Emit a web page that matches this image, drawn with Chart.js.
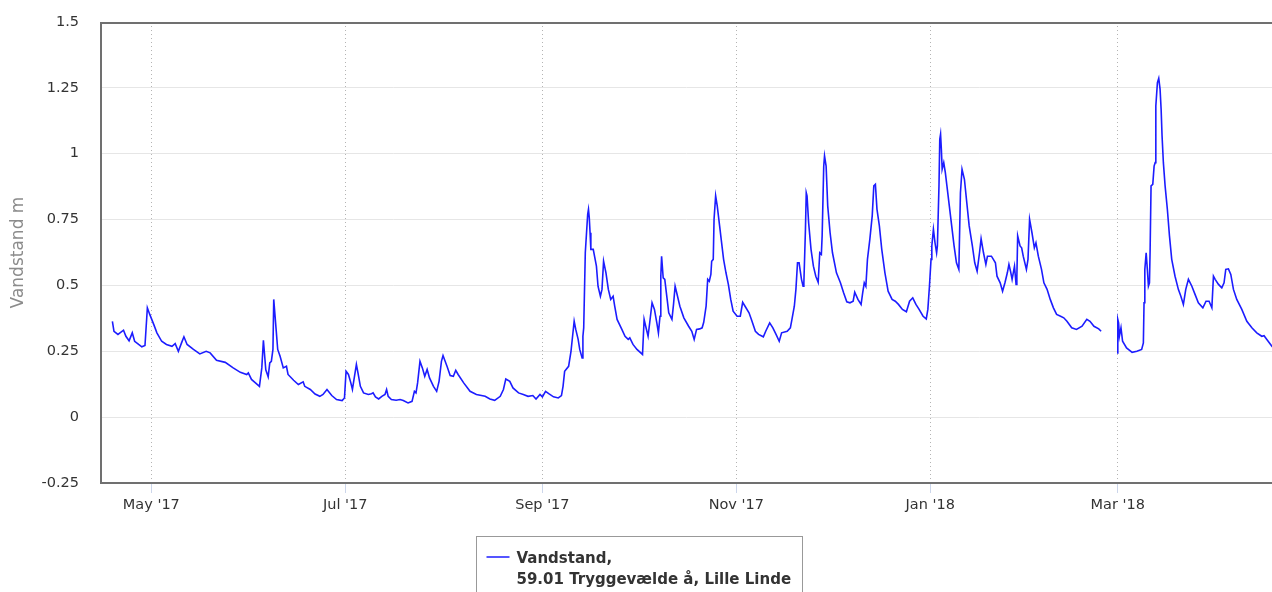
<!DOCTYPE html>
<html>
<head>
<meta charset="utf-8">
<title>Vandstand – 59.01 Tryggevælde å, Lille Linde</title>
<script src="https://cdn.jsdelivr.net/npm/chart.js@4.4.1/dist/chart.umd.min.js"></script>
<style>
  html, body { margin: 0; padding: 0; background: #ffffff; }
  canvas { display: block; }
</style>
</head>
<body>
<canvas id="chart" width="1272" height="592"></canvas>
<script>
// Reading times ("YYYY-MM-DD HH", UTC) and water level in metres.
const readingTimes = [
  "2017-04-18 18","2017-04-19 06","2017-04-20 12","2017-04-22 06","2017-04-23 00","2017-04-24 00","2017-04-25 00","2017-04-25 18",
  "2017-04-27 00","2017-04-28 00","2017-04-29 00","2017-04-29 18","2017-04-30 12","2017-05-01 18","2017-05-02 18","2017-05-04 06",
  "2017-05-05 18","2017-05-07 12","2017-05-08 12","2017-05-09 12","2017-05-10 12","2017-05-11 06","2017-05-12 06","2017-05-14 06",
  "2017-05-16 06","2017-05-18 06","2017-05-19 12","2017-05-21 12","2017-05-24 06","2017-05-26 18","2017-05-29 00","2017-05-31 00",
  "2017-05-31 12","2017-06-01 12","2017-06-02 18","2017-06-04 00","2017-06-04 18","2017-06-05 06","2017-06-06 00","2017-06-06 18",
  "2017-06-07 06","2017-06-07 18","2017-06-08 06","2017-06-08 12","2017-06-09 06","2017-06-09 18","2017-06-10 12","2017-06-11 12",
  "2017-06-12 12","2017-06-13 00","2017-06-14 18","2017-06-16 06","2017-06-17 18","2017-06-18 06","2017-06-20 00","2017-06-21 12",
  "2017-06-23 00","2017-06-24 00","2017-06-25 06","2017-06-26 18","2017-06-28 06","2017-06-30 00","2017-06-30 18","2017-07-01 06",
  "2017-07-02 00","2017-07-02 18","2017-07-03 06","2017-07-03 18","2017-07-04 12","2017-07-05 00","2017-07-05 18","2017-07-06 18",
  "2017-07-08 06","2017-07-09 06","2017-07-09 18","2017-07-10 12","2017-07-11 12","2017-07-12 12","2017-07-13 12","2017-07-14 00",
  "2017-07-14 12","2017-07-15 12","2017-07-17 00","2017-07-18 06","2017-07-19 06","2017-07-20 18","2017-07-22 00","2017-07-22 18",
  "2017-07-23 06","2017-07-23 18","2017-07-24 12","2017-07-25 06","2017-07-26 00","2017-07-26 18","2017-07-27 12","2017-07-28 18",
  "2017-07-29 18","2017-07-30 12","2017-07-31 06","2017-07-31 18","2017-08-02 00","2017-08-03 00","2017-08-04 00","2017-08-04 18",
  "2017-08-05 12","2017-08-07 06","2017-08-09 06","2017-08-11 06","2017-08-14 00","2017-08-15 12","2017-08-17 00","2017-08-18 18",
  "2017-08-19 18","2017-08-20 12","2017-08-21 18","2017-08-22 18","2017-08-24 12","2017-08-26 00","2017-08-27 12","2017-08-29 00",
  "2017-08-30 00","2017-08-31 06","2017-09-01 00","2017-09-02 00","2017-09-03 00","2017-09-04 12","2017-09-06 00","2017-09-07 00",
  "2017-09-07 12","2017-09-08 00","2017-09-09 06","2017-09-10 00","2017-09-10 12","2017-09-11 00","2017-09-11 12","2017-09-12 06",
  "2017-09-12 18","2017-09-13 12","2017-09-13 18","2017-09-14 00","2017-09-14 12","2017-09-15 06","2017-09-15 12","2017-09-15 18",
  "2017-09-16 00","2017-09-16 06","2017-09-17 00","2017-09-18 00","2017-09-18 12","2017-09-19 06","2017-09-19 18","2017-09-20 06",
  "2017-09-21 00","2017-09-21 18","2017-09-22 12","2017-09-23 06","2017-09-23 18","2017-09-24 12","2017-09-26 00","2017-09-27 00",
  "2017-09-28 00","2017-09-28 12","2017-09-29 12","2017-09-30 18","2017-10-02 12","2017-10-03 00","2017-10-03 12","2017-10-04 06",
  "2017-10-05 00","2017-10-05 12","2017-10-06 06","2017-10-07 00","2017-10-07 12","2017-10-08 00","2017-10-08 06","2017-10-08 12",
  "2017-10-09 00","2017-10-09 12","2017-10-10 06","2017-10-10 18","2017-10-11 18","2017-10-12 06","2017-10-12 18","2017-10-13 06",
  "2017-10-14 06","2017-10-15 12","2017-10-17 00","2017-10-18 00","2017-10-18 18","2017-10-19 12","2017-10-20 12","2017-10-21 06",
  "2017-10-21 18","2017-10-22 12","2017-10-23 00","2017-10-23 12","2017-10-24 00","2017-10-24 06","2017-10-24 18","2017-10-25 00",
  "2017-10-25 12","2017-10-26 00","2017-10-26 18","2017-10-27 06","2017-10-28 00","2017-10-28 18","2017-10-29 12","2017-10-30 06",
  "2017-10-31 00","2017-11-01 06","2017-11-02 06","2017-11-03 00","2017-11-03 18","2017-11-05 00","2017-11-05 18","2017-11-07 00",
  "2017-11-08 00","2017-11-09 12","2017-11-10 06","2017-11-11 12","2017-11-12 12","2017-11-13 12","2017-11-14 12","2017-11-15 06",
  "2017-11-17 00","2017-11-18 00","2017-11-18 12","2017-11-19 06","2017-11-19 18","2017-11-20 06","2017-11-20 18","2017-11-21 12",
  "2017-11-22 00","2017-11-22 06","2017-11-22 18","2017-11-23 00","2017-11-23 06","2017-11-23 18","2017-11-24 12","2017-11-25 06",
  "2017-11-26 00","2017-11-26 18","2017-11-27 06","2017-11-27 18","2017-11-28 00","2017-11-28 12","2017-11-28 18","2017-11-29 06",
  "2017-11-29 18","2017-11-30 12","2017-12-01 06","2017-12-02 12","2017-12-03 18","2017-12-04 18","2017-12-05 18","2017-12-06 18",
  "2017-12-07 18","2017-12-08 06","2017-12-09 06","2017-12-10 06","2017-12-10 18","2017-12-11 06","2017-12-11 18","2017-12-12 06",
  "2017-12-13 00","2017-12-13 18","2017-12-14 06","2017-12-14 18","2017-12-15 06","2017-12-16 00","2017-12-16 18","2017-12-17 18",
  "2017-12-18 18","2017-12-20 00","2017-12-21 00","2017-12-22 00","2017-12-23 06","2017-12-24 12","2017-12-25 12","2017-12-26 12",
  "2017-12-27 12","2017-12-28 12","2017-12-29 18","2017-12-30 18","2017-12-31 06","2017-12-31 18","2018-01-01 06","2018-01-01 12",
  "2018-01-02 00","2018-01-02 12","2018-01-03 00","2018-01-03 06","2018-01-03 18","2018-01-04 00","2018-01-04 06","2018-01-04 12",
  "2018-01-04 18","2018-01-05 06","2018-01-05 18","2018-01-06 06","2018-01-07 00","2018-01-07 18","2018-01-08 12","2018-01-09 06",
  "2018-01-10 00","2018-01-10 12","2018-01-11 00","2018-01-11 18","2018-01-12 12","2018-01-13 06","2018-01-14 06","2018-01-15 00",
  "2018-01-15 18","2018-01-16 12","2018-01-17 00","2018-01-17 18","2018-01-18 12","2018-01-19 00","2018-01-20 06","2018-01-21 12",
  "2018-01-22 00","2018-01-23 00","2018-01-23 18","2018-01-24 12","2018-01-25 06","2018-01-25 18","2018-01-26 06","2018-01-26 18",
  "2018-01-27 12","2018-01-28 00","2018-01-28 06","2018-01-28 12","2018-01-29 06","2018-01-29 18","2018-01-30 06","2018-01-31 06",
  "2018-01-31 18","2018-02-01 06","2018-02-02 00","2018-02-02 18","2018-02-03 06","2018-02-04 00","2018-02-05 00","2018-02-05 18",
  "2018-02-06 18","2018-02-07 18","2018-02-08 18","2018-02-09 18","2018-02-11 00","2018-02-12 00","2018-02-13 00","2018-02-14 12",
  "2018-02-16 00","2018-02-17 18","2018-02-19 06","2018-02-20 06","2018-02-21 12","2018-02-23 00","2018-02-23 18","2018-02-26 00",
  "2018-02-28 18","2018-03-01 00","2018-03-01 06","2018-03-01 12","2018-03-02 00","2018-03-02 12","2018-03-03 18","2018-03-05 12",
  "2018-03-07 00","2018-03-08 12","2018-03-09 01","2018-03-09 06","2018-03-09 12","2018-03-09 22","2018-03-10 07","2018-03-10 15",
  "2018-03-10 23","2018-03-11 04","2018-03-11 11","2018-03-12 00","2018-03-12 10","2018-03-12 18","2018-03-12 23","2018-03-13 11",
  "2018-03-13 21","2018-03-14 07","2018-03-14 15","2018-03-14 22","2018-03-15 08","2018-03-15 21","2018-03-16 14","2018-03-17 06",
  "2018-03-17 23","2018-03-19 00","2018-03-20 01","2018-03-20 20","2018-03-21 15","2018-03-22 09","2018-03-23 05","2018-03-24 07",
  "2018-03-25 07","2018-03-26 08","2018-03-27 18","2018-03-28 18","2018-03-29 17","2018-03-30 14","2018-03-31 02","2018-03-31 15",
  "2018-04-01 16","2018-04-02 17","2018-04-03 10","2018-04-03 23","2018-04-04 19","2018-04-05 13","2018-04-06 09","2018-04-07 10",
  "2018-04-09 00","2018-04-10 14","2018-04-12 04","2018-04-13 17","2018-04-15 07","2018-04-16 00","2018-04-16 21","2018-04-18 11",
  "2018-04-19 00"
];

const waterLevel = [
  0.364,0.326,0.314,0.330,0.307,0.290,0.320,0.288,
  0.276,0.267,0.272,0.415,0.390,0.352,0.320,0.288,
  0.276,0.269,0.279,0.250,0.282,0.305,0.276,0.257,
  0.240,0.250,0.244,0.216,0.208,0.187,0.170,0.162,
  0.168,0.143,0.130,0.117,0.187,0.292,0.180,0.153,
  0.206,0.212,0.257,0.447,0.333,0.257,0.231,0.187,
  0.193,0.162,0.140,0.124,0.134,0.117,0.105,0.088,
  0.079,0.086,0.105,0.082,0.067,0.063,0.073,0.174,
  0.162,0.130,0.105,0.143,0.200,0.168,0.117,0.092,
  0.086,0.089,0.092,0.077,0.069,0.079,0.086,0.105,
  0.079,0.067,0.064,0.067,0.063,0.054,0.060,0.098,
  0.092,0.130,0.212,0.187,0.155,0.181,0.149,0.117,
  0.098,0.136,0.212,0.234,0.193,0.158,0.155,0.178,
  0.162,0.130,0.098,0.086,0.079,0.069,0.064,0.079,
  0.105,0.145,0.136,0.111,0.092,0.086,0.079,0.082,
  0.069,0.086,0.077,0.098,0.089,0.077,0.073,0.082,
  0.117,0.174,0.193,0.250,0.307,0.364,0.333,0.295,
  0.257,0.225,0.307,0.339,0.624,0.770,0.789,0.757,
  0.700,0.637,0.637,0.573,0.497,0.459,0.485,0.592,
  0.548,0.485,0.447,0.459,0.421,0.371,0.333,0.307,
  0.295,0.301,0.276,0.257,0.238,0.371,0.345,0.307,
  0.383,0.434,0.409,0.358,0.320,0.383,0.535,0.611,
  0.529,0.523,0.447,0.396,0.371,0.428,0.497,0.472,
  0.421,0.377,0.345,0.326,0.295,0.333,0.335,0.339,
  0.360,0.421,0.523,0.516,0.542,0.592,0.599,0.751,
  0.840,0.802,0.726,0.675,0.599,0.548,0.504,0.447,
  0.402,0.383,0.383,0.436,0.421,0.396,0.371,0.326,
  0.314,0.305,0.326,0.358,0.339,0.314,0.288,0.320,
  0.326,0.339,0.371,0.421,0.485,0.586,0.586,0.523,
  0.497,0.510,0.713,0.852,0.840,0.738,0.637,0.573,
  0.535,0.512,0.624,0.618,0.688,0.953,0.992,0.953,
  0.802,0.700,0.624,0.548,0.510,0.472,0.438,0.434,
  0.440,0.474,0.447,0.428,0.472,0.510,0.497,0.599,
  0.675,0.764,0.878,0.884,0.789,0.726,0.637,0.548,
  0.478,0.447,0.440,0.428,0.409,0.400,0.440,0.453,
  0.428,0.409,0.383,0.373,0.409,0.497,0.599,0.650,
  0.713,0.662,0.624,0.650,0.878,1.055,1.074,1.017,
  0.941,0.966,0.928,0.878,0.802,0.726,0.650,0.586,
  0.561,0.852,0.941,0.903,0.814,0.726,0.650,0.586,
  0.554,0.624,0.677,0.624,0.580,0.611,0.611,0.586,
  0.535,0.510,0.478,0.510,0.548,0.580,0.554,0.523,
  0.573,0.504,0.535,0.688,0.650,0.643,0.611,0.561,
  0.599,0.751,0.700,0.643,0.662,0.611,0.561,0.510,
  0.485,0.447,0.415,0.390,0.383,0.377,0.364,0.339,
  0.333,0.345,0.371,0.364,0.345,0.335,0.326,null,
  0.244,0.371,0.358,0.307,0.339,0.288,0.263,0.246,
  0.250,0.257,0.282,0.434,0.561,0.624,0.561,0.497,
  0.510,0.637,0.878,0.884,0.953,0.966,1.181,1.270,
  1.286,1.245,1.169,1.068,0.966,0.878,0.789,0.688,
  0.599,0.535,0.485,0.459,0.428,0.485,0.523,0.497,
  0.466,0.434,0.415,0.440,0.440,0.415,0.535,0.523,
  0.504,0.491,0.510,0.561,0.563,0.542,0.485,0.447,
  0.409,0.364,0.339,0.320,0.307,0.309,0.295,0.269,
  0.262
];

// Axis setup
const axisStart = "2017-04-15 04";
const axisEnd = "2018-04-18 12";
const monthTicks = ["2017-05-01 00", "2017-07-01 00", "2017-09-01 00", "2017-11-01 00", "2018-01-01 00", "2018-03-01 00"];
const monthNames = ["Jan", "Feb", "Mar", "Apr", "May", "Jun", "Jul", "Aug", "Sep", "Oct", "Nov", "Dec"];
const levelTicks = [-0.25, 0, 0.25, 0.5, 0.75, 1, 1.25, 1.5];
const yAxisTitle = "Vandstand m";
const seriesName = ["Vandstand,", "59.01 Tryggevælde å, Lille Linde"];

const FONT = "'DejaVu Sans', Verdana, sans-serif";
const LINE_COLOR = "#1c1cff";

function toTime(s) {
  const [day, hour] = s.split(" ");
  const [y, m, d] = day.split("-").map(Number);
  return Date.UTC(y, m - 1, d, hour ? Number(hour) : 0);
}

function monthLabel(ms) {
  const dt = new Date(ms);
  return monthNames[dt.getUTCMonth()] + " '" + String(dt.getUTCFullYear()).slice(2);
}

const points = readingTimes.map((t, i) => ({ x: toTime(t), y: waterLevel[i] }));

// Plot frame drawn around the chart area
const plotFrame = {
  id: "plotFrame",
  afterDraw(chart) {
    const { ctx, chartArea: a } = chart;
    ctx.save();
    ctx.strokeStyle = "#707070";
    ctx.lineWidth = 2;
    ctx.beginPath();
    ctx.moveTo(a.right + 2, a.top + 1);
    ctx.lineTo(a.left, a.top + 1);
    ctx.lineTo(a.left, a.bottom);
    ctx.lineTo(a.right + 2, a.bottom);
    ctx.stroke();
    ctx.restore();
  }
};

// Boxed legend below the plot, with a two-line series name
const boxedLegend = {
  id: "boxedLegend",
  afterDraw(chart) {
    const { ctx } = chart;
    const ds = chart.data.datasets[0];
    const lines = ds.legendLines;
    ctx.save();
    ctx.font = "bold 15px " + FONT;
    const textW = Math.max(...lines.map(l => ctx.measureText(l).width));
    const boxX = 476.5, boxY = 536.5;
    const symW = 23, gap = 7, padL = 10, padR = 11;
    const boxW = Math.round(padL + symW + gap + textW + padR);
    ctx.fillStyle = "#ffffff";
    ctx.fillRect(boxX, boxY, boxW, 80);
    ctx.strokeStyle = "#999999";
    ctx.lineWidth = 1;
    ctx.strokeRect(boxX, boxY, boxW, 80);
    // series symbol
    ctx.strokeStyle = ds.borderColor;
    ctx.lineWidth = 1.5;
    ctx.beginPath();
    ctx.moveTo(boxX + padL, 557);
    ctx.lineTo(boxX + padL + symW, 557);
    ctx.stroke();
    // series name
    ctx.fillStyle = "#333333";
    ctx.textBaseline = "alphabetic";
    ctx.textAlign = "left";
    const tx = boxX + padL + symW + gap;
    lines.forEach((l, i) => ctx.fillText(l, tx, 563 + i * 21));
    ctx.restore();
  }
};

new Chart(document.getElementById("chart"), {
  type: "line",
  data: {
    datasets: [{
      label: seriesName.join(" "),
      legendLines: seriesName,
      data: points,
      borderColor: LINE_COLOR,
      borderWidth: 1.6,
      pointRadius: 0,
      pointHoverRadius: 0,
      tension: 0,
      spanGaps: false,
      fill: false
    }]
  },
  options: {
    responsive: false,
    animation: false,
    events: [],
    layout: { padding: { top: 22, right: 0, bottom: 0, left: 0 } },
    plugins: {
      legend: { display: false },
      tooltip: { enabled: false }
    },
    scales: {
      x: {
        type: "linear",
        min: toTime(axisStart),
        max: toTime(axisEnd),
        afterBuildTicks(scale) {
          scale.ticks = monthTicks.map(t => ({ value: toTime(t) }));
        },
        afterFit(scale) { scale.height = 109; },
        ticks: {
          callback: v => monthLabel(v),
          color: "#333333",
          font: { family: FONT, size: 14.5 },
          padding: 4,
          maxRotation: 0,
          autoSkip: false
        },
        grid: {
          color: "#b4b4b4",
          lineWidth: 1,
          drawTicks: true,
          tickLength: 10,
          tickColor: "#ccd6eb",
          tickWidth: 1,
          tickBorderDash: []
        },
        border: { display: false, dash: [1, 3] }
      },
      y: {
        type: "linear",
        min: -0.25,
        max: 1.5,
        afterBuildTicks(scale) {
          scale.ticks = levelTicks.map(v => ({ value: v }));
        },
        afterFit(scale) {
          scale.width = 101;
          scale.paddingTop = 0;
          scale.paddingBottom = 0;
        },
        ticks: {
          callback: v => String(v),
          color: "#333333",
          font: { family: FONT, size: 14.5 },
          padding: 22
        },
        grid: {
          color: "#e6e6e6",
          lineWidth: 1,
          drawTicks: false
        },
        border: { display: false },
        title: {
          display: true,
          text: yAxisTitle,
          color: "#8c8c8c",
          font: { family: FONT, size: 17 },
          padding: { top: 8, bottom: 0 }
        }
      }
    }
  },
  plugins: [plotFrame, boxedLegend]
});
</script>
</body>
</html>
